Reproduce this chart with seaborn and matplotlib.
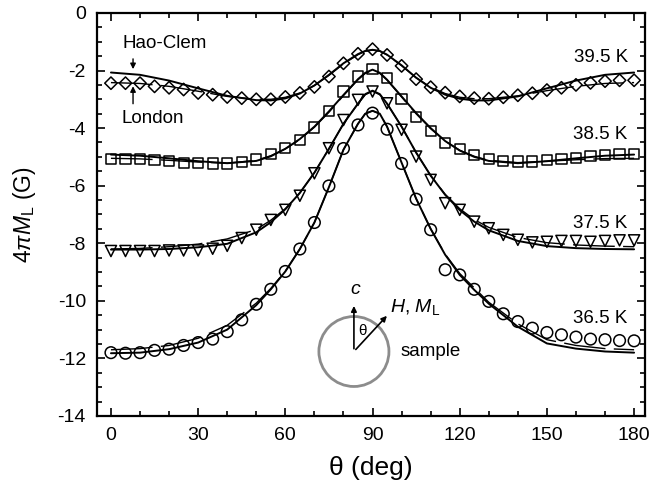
import matplotlib.pyplot as plt
import seaborn as sns
import pandas as pd
import numpy as np
from matplotlib.patches import Ellipse
from matplotlib.ticker import MultipleLocator

sns.set_style('ticks')
plt.rcParams['font.family'] = ['Liberation Sans', 'DejaVu Sans']
plt.rcParams['mathtext.fontset'] = 'custom'
plt.rcParams['mathtext.rm'] = 'Liberation Sans'
plt.rcParams['mathtext.it'] = 'Liberation Sans:italic'
plt.rcParams['axes.unicode_minus'] = False
# 全部用纯黑
for key in ['text.color', 'axes.labelcolor', 'xtick.color', 'ytick.color', 'axes.edgecolor']:
    plt.rcParams[key] = 'black'

# 测量角度 (deg)
theta = [0, 5, 10, 15, 20, 25, 30, 35, 40, 45, 50, 55, 60, 65, 70, 75, 80, 85, 90,
         95, 100, 105, 110, 115, 120, 125, 130, 135, 140, 145, 150, 155, 160, 165, 170, 175, 180]

# 测量数据 4piM_L (G)
m395 = [-2.44, -2.44, -2.44, -2.55, -2.60, -2.66, -2.78, -2.84, -2.92, -2.96, -3.00, -3.00, -2.92,
        -2.78, -2.57, -2.21, -1.75, -1.42, -1.26, -1.46, -1.84, -2.30, -2.58, -2.77, -2.90, -2.96,
        -2.98, -2.93, -2.86, -2.79, -2.68, -2.60, -2.50, -2.43, -2.37, -2.34, -2.34]
m385 = [-5.07, -5.07, -5.07, -5.10, -5.14, -5.20, -5.22, -5.23, -5.23, -5.17, -5.09, -4.90, -4.68,
        -4.41, -3.98, -3.40, -2.73, -2.21, -1.96, -2.27, -2.99, -3.62, -4.11, -4.53, -4.73, -4.93,
        -5.07, -5.14, -5.16, -5.16, -5.10, -5.07, -5.03, -4.97, -4.93, -4.90, -4.90]
m375 = [-8.27, -8.27, -8.27, -8.27, -8.25, -8.25, -8.25, -8.19, -8.09, -7.82, -7.53, -7.19, -6.84,
        -6.35, -5.57, -4.70, -3.72, -3.02, -2.73, -3.14, -4.06, -4.99, -5.80, -6.61, -6.84, -7.25,
        -7.48, -7.71, -7.88, -7.97, -7.95, -7.92, -7.92, -7.95, -7.92, -7.90, -7.90]
m365 = [-11.80, -11.82, -11.80, -11.72, -11.68, -11.55, -11.45, -11.33, -11.07, -10.66, -10.12, -9.60,
        -8.98, -8.20, -7.28, -6.01, -4.71, -3.89, -3.48, -4.04, -5.23, -6.47, -7.53, -8.92, -9.10,
        -9.60, -10.02, -10.45, -10.72, -10.95, -11.10, -11.18, -11.26, -11.33, -11.35, -11.38, -11.39]

# 拟合曲线
theta_fit = [0, 10, 20, 30, 40, 50, 55, 60, 65, 70, 75, 80, 85, 87.5, 90, 92.5, 95,
             100, 105, 110, 115, 120, 125, 130, 140, 150, 160, 170, 180]

hc395 = [-2.07, -2.15, -2.35, -2.62, -2.88, -3.03, -3.04, -2.97, -2.80, -2.52, -2.15, -1.75, -1.43,
         -1.32, -1.28, -1.32, -1.45, -1.82, -2.25, -2.60, -2.84, -2.98, -3.04, -3.04, -2.90, -2.62,
         -2.35, -2.15, -2.07]
lo395 = [-2.42, -2.45, -2.55, -2.72, -2.90, -3.00, -3.00, -2.93, -2.78, -2.52, -2.17, -1.77, -1.45,
         -1.33, -1.29, -1.33, -1.46, -1.83, -2.25, -2.58, -2.80, -2.93, -2.98, -2.98, -2.88, -2.70,
         -2.55, -2.45, -2.42]
hc385 = [-4.92, -4.96, -5.05, -5.15, -5.22, -5.14, -4.98, -4.72, -4.38, -3.95, -3.42, -2.85, -2.30,
         -2.08, -1.97, -2.08, -2.32, -2.90, -3.48, -4.00, -4.45, -4.78, -5.00, -5.14, -5.22, -5.15,
         -5.05, -4.96, -4.92]
lo385 = [-5.05, -5.07, -5.12, -5.18, -5.22, -5.12, -4.96, -4.72, -4.40, -3.97, -3.45, -2.87, -2.32,
         -2.10, -2.00, -2.10, -2.33, -2.92, -3.50, -4.02, -4.45, -4.77, -4.98, -5.12, -5.20, -5.15,
         -5.10, -5.06, -5.05]
hc375 = [-8.22, -8.22, -8.20, -8.14, -8.02, -7.62, -7.27, -6.82, -6.25, -5.55, -4.72, -3.85, -3.15,
         -2.82, -2.70, -2.82, -3.15, -3.95, -4.85, -5.65, -6.32, -6.85, -7.25, -7.55, -7.92, -8.10,
         -8.17, -8.20, -8.21]
lo375 = [-8.20, -8.18, -8.12, -8.03, -7.85, -7.52, -7.20, -6.80, -6.25, -5.55, -4.72, -3.85, -3.15,
         -2.84, -2.72, -2.84, -3.15, -3.95, -4.85, -5.65, -6.30, -6.80, -7.18, -7.45, -7.80, -7.98,
         -8.06, -8.10, -8.12]
hc365 = [-11.82, -11.80, -11.68, -11.45, -11.00, -10.15, -9.60, -8.98, -8.20, -7.28, -6.05, -4.75, -3.85,
         -3.50, -3.40, -3.50, -3.95, -5.20, -6.45, -7.50, -8.40, -9.10, -9.62, -10.10, -10.90, -11.48,
         -11.66, -11.76, -11.80]
lo365 = [-11.70, -11.66, -11.55, -11.30, -10.85, -10.08, -9.57, -8.97, -8.20, -7.28, -6.05, -4.75, -3.85,
         -3.50, -3.40, -3.50, -3.95, -5.20, -6.45, -7.50, -8.38, -9.05, -9.55, -10.05, -10.80, -11.35,
         -11.55, -11.66, -11.70]

temps = ['39.5 K', '38.5 K', '37.5 K', '36.5 K']
data_series = [m395, m385, m375, m365]
hc_series = [hc395, hc385, hc375, hc365]
lo_series = [lo395, lo385, lo375, lo365]
markers = ['D', 's', 'v', 'o']
sizes = [40, 54, 64, 70]
label_y = [-1.55, -4.24, -7.31, -10.6]

fig = plt.figure(figsize=(6.51, 4.97), dpi=100)
ax = fig.add_axes([0.149, 0.163, 0.842, 0.811])

for hc, lo in zip(hc_series, lo_series):
    sns.lineplot(x=theta_fit, y=hc, ax=ax, color='black', lw=1.4, estimator=None, sort=False)
    sns.lineplot(x=theta_fit, y=lo, ax=ax, color='black', lw=1.0, estimator=None, sort=False,
                 linestyle=(0, (30, 6)))

for m, mk, s in zip(data_series, markers, sizes):
    sns.scatterplot(x=theta, y=m, ax=ax, marker=mk, s=s, facecolor='none',
                    edgecolor='black', linewidth=1.1, zorder=3)

for t, ly in zip(temps, label_y):
    ax.text(168.5, ly, t, ha='center', va='center', fontsize=13.5)

# Hao-Clem / London 标注
ax.text(18.6, -1.06, 'Hao-Clem', ha='center', va='center', fontsize=13.5)
ax.annotate('', xy=(7.6, -2.05), xytext=(7.6, -1.5),
            arrowprops=dict(arrowstyle='-|>', color='black', lw=1.0, mutation_scale=8))
ax.text(14.3, -3.66, 'London', ha='center', va='center', fontsize=13.5)
ax.annotate('', xy=(7.6, -2.45), xytext=(7.6, -3.25),
            arrowprops=dict(arrowstyle='-|>', color='black', lw=1.0, mutation_scale=8))

# 样品示意图
ax.add_patch(Ellipse((83.6, -11.76), 24.1, 2.43, fill=False, edgecolor='#8c8c8c', lw=2.0))
ax.annotate('', xy=(83.6, -10.08), xytext=(83.6, -11.76),
            arrowprops=dict(arrowstyle='-|>', color='black', lw=1.2, mutation_scale=8))
ax.annotate('', xy=(95.6, -10.45), xytext=(83.6, -11.76),
            arrowprops=dict(arrowstyle='-|>', color='black', lw=1.2, mutation_scale=8))
ax.text(84.1, -9.6, '$c$', ha='center', va='center', fontsize=14)
ax.text(96.0, -10.2, r'$H$, $M_\mathrm{L}$', ha='left', va='center', fontsize=14)
ax.text(86.4, -11.06, 'θ', ha='center', va='center', fontsize=11)
ax.text(99.7, -11.76, 'sample', ha='left', va='center', fontsize=13.5)

ax.set_xlim(-4.8, 183.8)
ax.set_ylim(-14, 0)
ax.xaxis.set_major_locator(MultipleLocator(30))
ax.xaxis.set_minor_locator(MultipleLocator(10))
ax.yaxis.set_major_locator(MultipleLocator(2))
ax.yaxis.set_minor_locator(MultipleLocator(0.5))
ax.tick_params(which='both', direction='in', top=True, right=True, width=1.2)
ax.tick_params(which='major', length=6, labelsize=14, pad=8)
ax.tick_params(which='minor', length=3.5)
for sp in ax.spines.values():
    sp.set_linewidth(1.6)

ax.set_xlabel('θ (deg)', fontsize=19)
ax.set_ylabel(r'4$\pi$$M_\mathrm{L}$ (G)', fontsize=16.5)
ax.xaxis.set_label_coords(0.5, -0.1)
ax.yaxis.set_label_coords(-0.108, 0.5)

fig.savefig('out.png', dpi=100)
